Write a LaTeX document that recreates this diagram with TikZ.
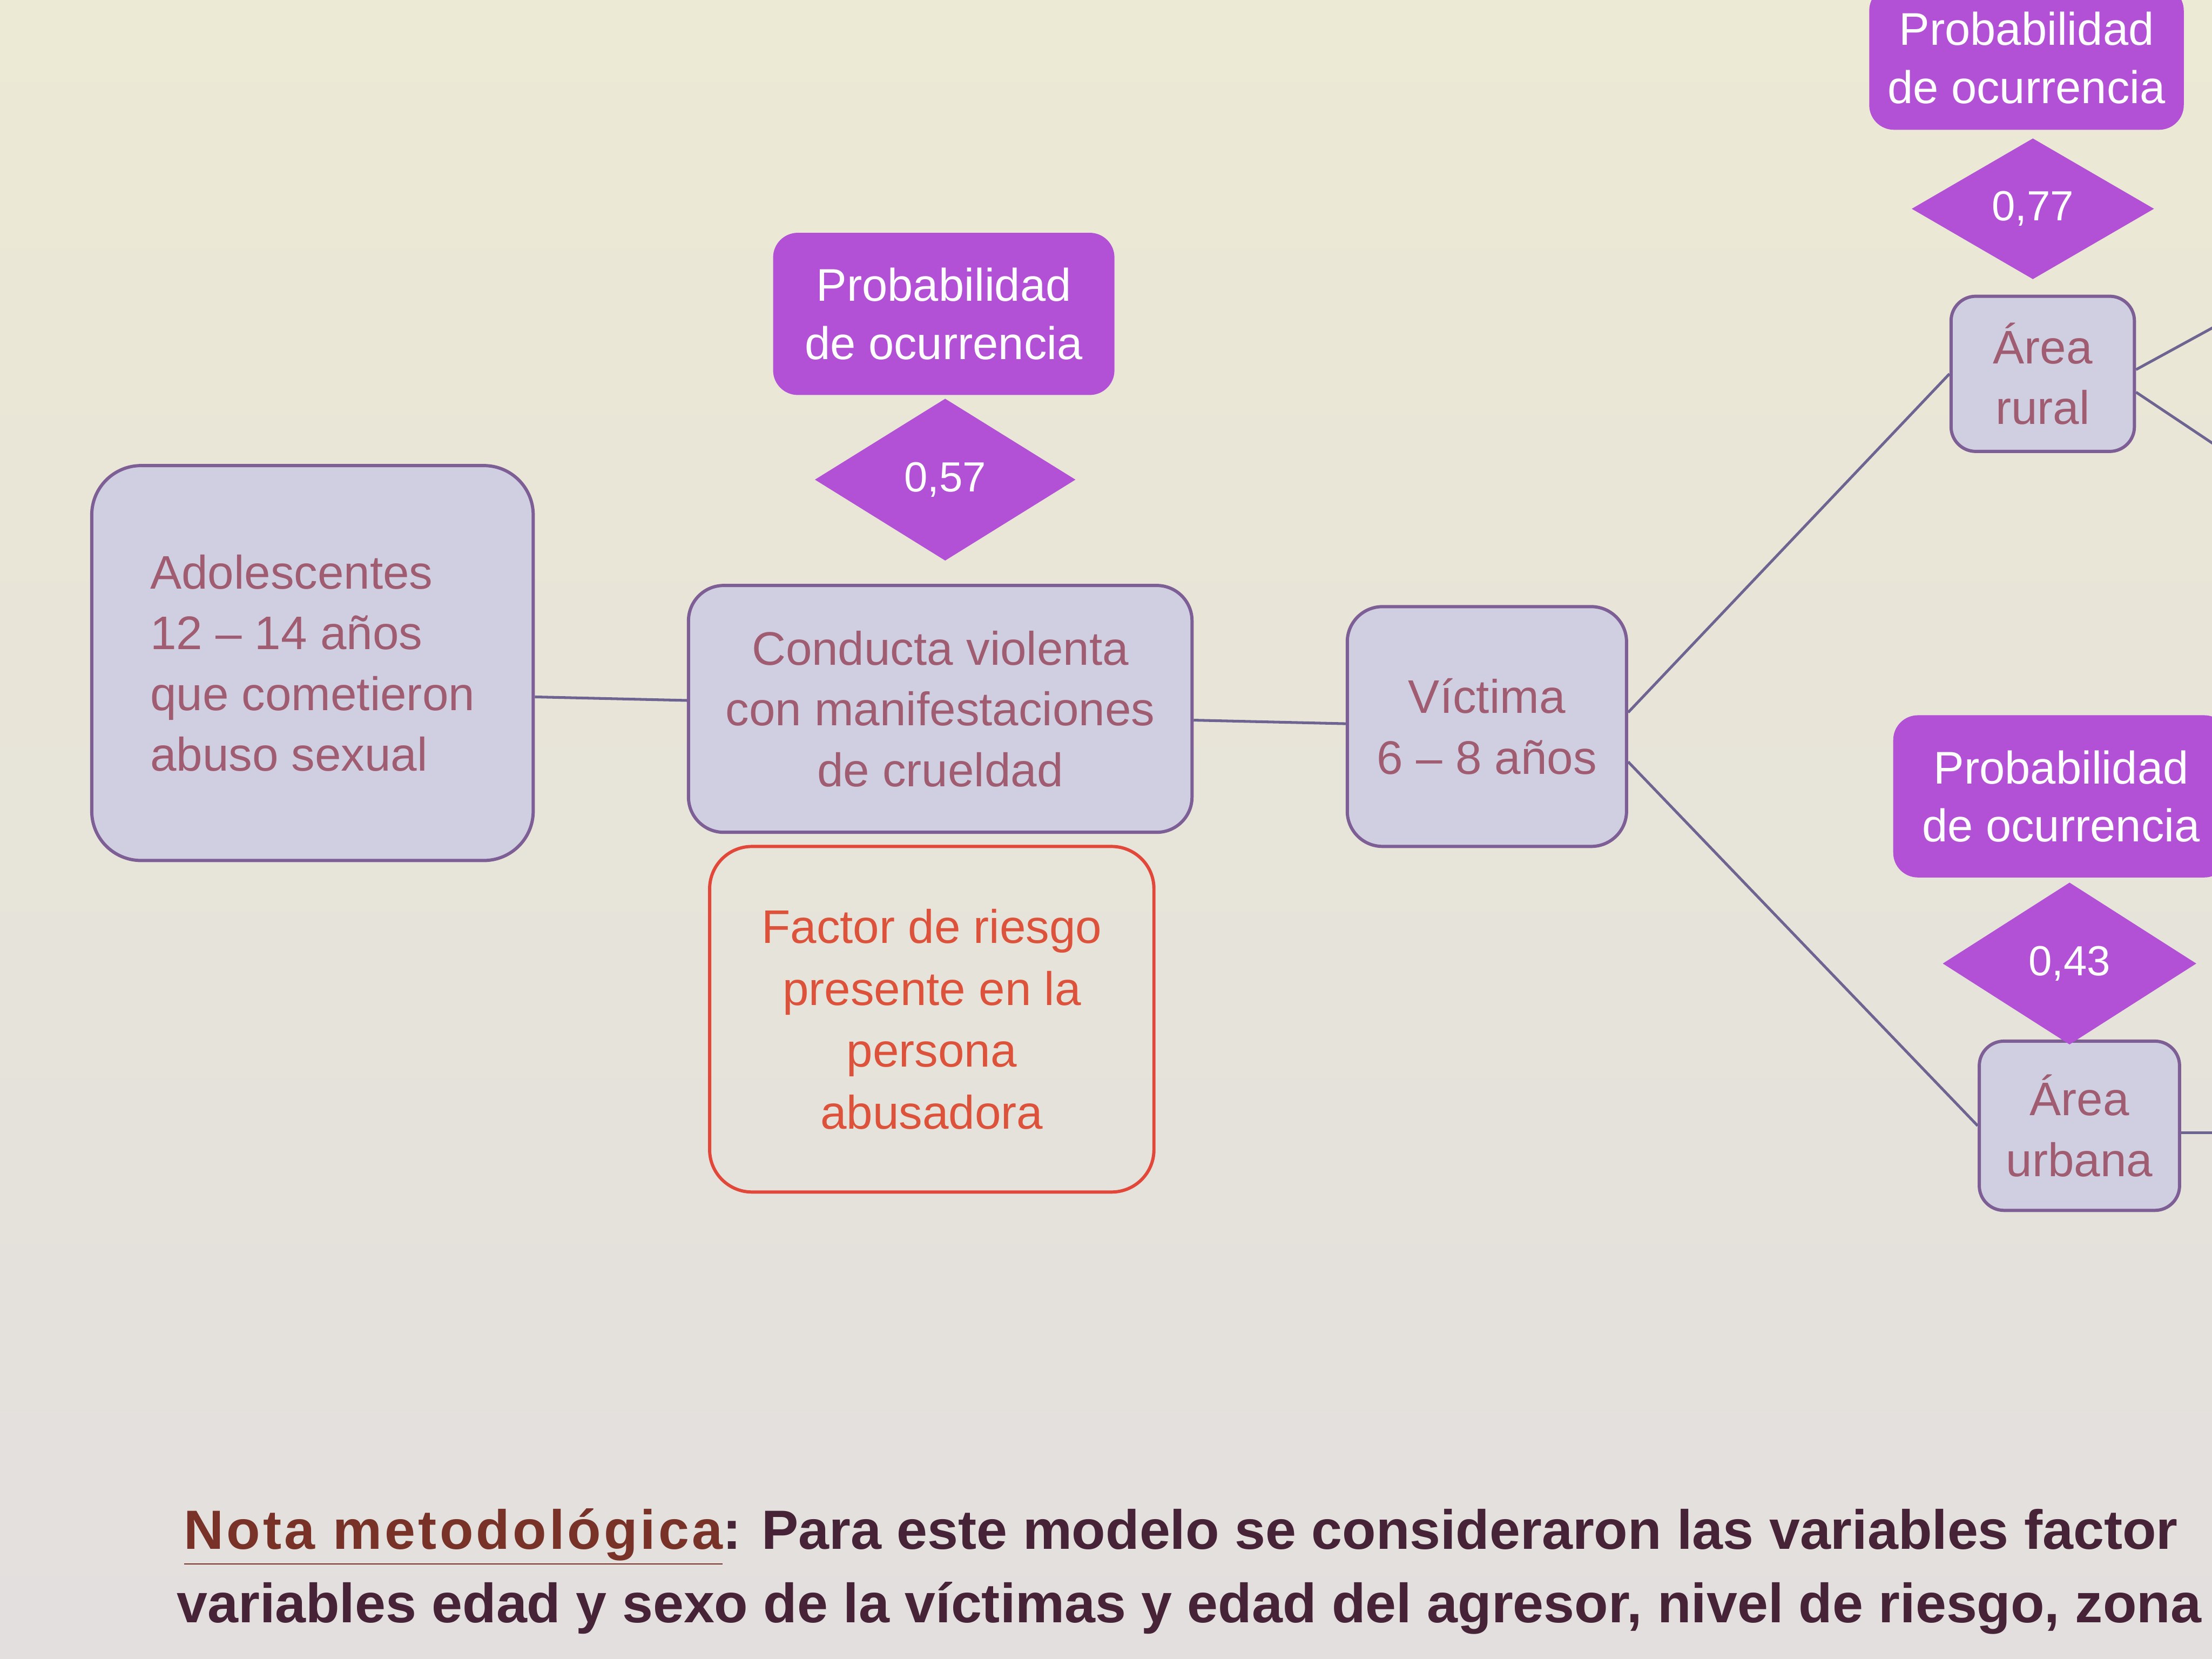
\documentclass[tikz,border=0pt]{standalone}
\usepackage{fontspec}
\setmainfont{Liberation Sans}
\usetikzlibrary{shapes.geometric,calc}
\definecolor{bgtop}{RGB}{236,233,212}
\definecolor{bgbot}{RGB}{226,223,222}
\definecolor{boxfill}{RGB}{208,207,226}
\definecolor{boxdraw}{RGB}{125,95,150}
\definecolor{boxtext}{RGB}{160,92,112}
\definecolor{purp}{RGB}{178,80,214}
\definecolor{redln}{RGB}{226,72,58}
\definecolor{redtx}{RGB}{220,82,58}
\definecolor{conn}{RGB}{110,100,145}
\definecolor{notetx}{RGB}{70,35,55}
\definecolor{notehd}{RGB}{120,50,40}
\tikzset{
  varbox/.style={draw=boxdraw, fill=boxfill, line width=1.3pt, text=boxtext,
    align=center, inner sep=0pt, font=\fontsize{19}{24.5}\selectfont},
  probbox/.style={fill=purp, text=white, align=center, inner sep=0pt,
    rounded corners=0.35cm, font=\fontsize{18.5}{23.5}\selectfont},
  probdiam/.style={diamond, fill=purp, text=white, inner sep=0pt,
    font=\fontsize{17}{19}\selectfont},
  riskbox/.style={draw=redln, line width=1.3pt, text=redtx, align=center,
    inner sep=0pt, rounded corners=0.6cm, font=\fontsize{19}{25}\selectfont},
  link/.style={draw=conn, line width=1.1pt},
  notestyle/.style={anchor=base west, inner sep=0pt, text=notetx,
    font=\fontsize{22.3}{26}\selectfont\bfseries}
}
\begin{document}
\begin{tikzpicture}[x=0.02cm,y=-0.02cm]
\useasboundingbox (0,0) rectangle (1568,1176);
\clip (0,0) rectangle (1568,1176);
\shade[top color=bgtop, bottom color=bgbot] (0,0) rectangle (1568,1176);

% left chain
\node[varbox, rounded corners=0.7cm, minimum width=6.26cm, minimum height=5.6cm, align=left]
  (A) at (221.5,470) {Adolescentes\\12 -- 14 años\\que cometieron\\abuso sexual};
\node[varbox, rounded corners=0.5cm, minimum width=7.14cm, minimum height=3.5cm]
  (B) at (666.5,502.5) {Conducta violenta\\con manifestaciones\\de crueldad};
\node[varbox, rounded corners=0.5cm, minimum width=3.96cm, minimum height=3.4cm]
  (C) at (1054,515) {Víctima\\6 -- 8 años};

\node[probbox, minimum width=4.84cm, minimum height=2.3cm] (P1) at (669,222.5)
  {Probabilidad\\de ocurrencia};
\node[probdiam, minimum width=3.7cm, minimum height=2.3cm] (D1) at (670,340) {0,57};

\node[riskbox, minimum width=6.3cm, minimum height=4.9cm] (R) at (660.5,722.5)
  {Factor de riesgo\\presente en la\\persona\\abusadora};

% right branches
\node[varbox, rounded corners=0.35cm, minimum width=2.6cm, minimum height=2.2cm]
  (RU) at (1448,265) {Área\\rural};
\node[probdiam, minimum width=3.44cm, minimum height=2.0cm] (D2) at (1441,148) {0,77};
\node[probbox, minimum width=4.46cm, minimum height=2.04cm] (P2) at (1436.5,41)
  {Probabilidad\\de ocurrencia};

\node[varbox, rounded corners=0.35cm, minimum width=2.84cm, minimum height=2.4cm]
  (UR) at (1474,798) {Área\\urbana};
\node[probdiam, minimum width=3.6cm, minimum height=2.3cm] (D3) at (1467,683) {0,43};
\node[probbox, minimum width=4.76cm, minimum height=2.3cm] (P3) at (1461,564.5)
  {Probabilidad\\de ocurrencia};

\coordinate (RUa) at (1580,226);
\coordinate (RUb) at (1580,322);
\coordinate (URa) at (1580,803);

\draw[link] ($(A.east)+(0,24)$) -- ($(B.west)+(0,-6)$);
\draw[link] ($(B.east)+(0,8)$) -- ($(C.west)+(0,-2)$);
\draw[link] ($(C.east)+(0,-10)$) -- (RU.west);
\draw[link] ($(C.east)+(0,25)$) -- (UR.west);
\draw[link] ($(RU.east)+(0,-3)$) -- (RUa);
\draw[link] ($(RU.east)+(0,13)$) -- (RUb);
\draw[link] ($(UR.east)+(0,5)$) -- (URa);

% note
\node[notestyle] (N1) at (130,1098)
  {\textcolor{notehd}{\underline{\addfontfeatures{LetterSpace=5}Nota metodológica}}: Para este modelo se consideraron las variables factor};
\node[notestyle] (N2) at (125,1150)
  {variables edad y sexo de la víctimas y edad del agresor, nivel de riesgo, zona};
\end{tikzpicture}
\end{document}
